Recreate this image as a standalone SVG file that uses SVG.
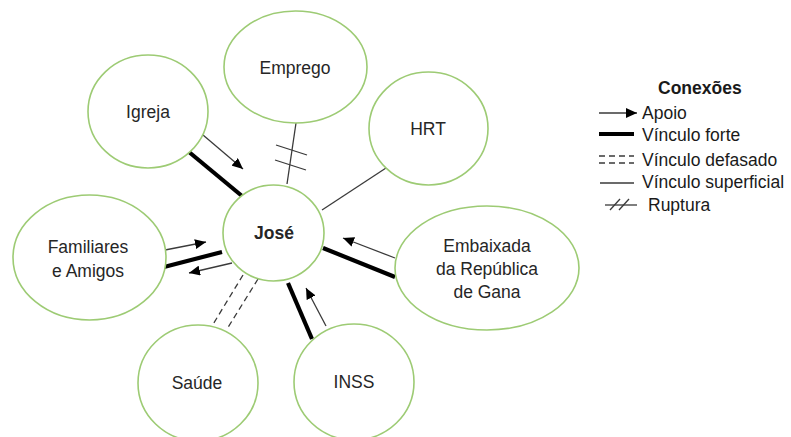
<svg xmlns="http://www.w3.org/2000/svg" width="791" height="437" viewBox="0 0 791 437">
<style>
.node{fill:#fff;stroke:#9dcb74;stroke-width:1.6}
.t{font-family:"Liberation Sans",Arial,sans-serif;font-size:17.5px;fill:#262626;text-anchor:middle}
.b{font-weight:bold}
.lg{font-family:"Liberation Sans",Arial,sans-serif;font-size:17.5px;fill:#1a1a1a}
.thin{stroke:#3a3a3a;stroke-width:1.3;fill:none}
.thick{stroke:#000;stroke-width:4.2;fill:none}
.dash{stroke:#3a3a3a;stroke-width:1.3;stroke-dasharray:6 4;fill:none}
</style>
<defs>
<marker id="ah" markerUnits="userSpaceOnUse" markerWidth="12" markerHeight="10" refX="11" refY="5" orient="auto">
<path d="M0,0 L11,5 L0,10 z" fill="#000"/>
</marker>
</defs>
<rect width="791" height="437" fill="#fff"/>
<g id="connectors">
<line class="thick" x1="189" y1="152" x2="242" y2="196"/>
<line class="thin" x1="203" y1="135" x2="243" y2="169" marker-end="url(#ah)"/>
<line class="thin" x1="296" y1="123" x2="287" y2="184"/>
<line class="thin" x1="276" y1="145" x2="307" y2="155"/>
<line class="thin" x1="275" y1="160" x2="306" y2="170"/>
<line class="thin" x1="386" y1="168" x2="322" y2="210"/>
<line class="thin" x1="165" y1="250" x2="206" y2="242" marker-end="url(#ah)"/>
<line class="thick" x1="164" y1="267" x2="222" y2="252"/>
<line class="thin" x1="232" y1="263" x2="189" y2="273" marker-end="url(#ah)"/>
<line class="dash" x1="243" y1="275" x2="212" y2="326"/>
<line class="dash" x1="258" y1="279" x2="227" y2="329"/>
<line class="thick" x1="288" y1="283" x2="312" y2="339"/>
<line class="thin" x1="326" y1="326" x2="306" y2="288" marker-end="url(#ah)"/>
<line class="thick" x1="323" y1="248" x2="395" y2="277"/>
<line class="thin" x1="395" y1="258" x2="343" y2="238" marker-end="url(#ah)"/>
</g>
<g id="jose"><ellipse class="node" cx="273.5" cy="233" rx="50.5" ry="48"/><text class="t b" x="274" y="239" font-size="16">José</text></g>
<g id="emprego"><ellipse class="node" cx="295.5" cy="67" rx="71.5" ry="56"/><text class="t" x="295" y="74">Emprego</text></g>
<g id="igreja"><ellipse class="node" cx="148" cy="111.5" rx="60" ry="56.5"/><text class="t" x="148" y="118">Igreja</text></g>
<g id="hrt"><ellipse class="node" cx="428.5" cy="128.5" rx="59.5" ry="56.5"/><text class="t" x="428" y="135">HRT</text></g>
<g id="familiares"><ellipse class="node" cx="89.5" cy="257.5" rx="76.5" ry="62.5"/><text class="t" x="88" y="253">Familiares</text><text class="t" x="88" y="277">e Amigos</text></g>
<g id="embaixada"><ellipse class="node" cx="487" cy="268" rx="92" ry="62"/><text class="t" x="487" y="252">Embaixada</text><text class="t" x="487" y="275">da República</text><text class="t" x="487" y="298">de Gana</text></g>
<g id="saude"><ellipse class="node" cx="198" cy="383" rx="60" ry="58"/><text class="t" x="197" y="389">Saúde</text></g>
<g id="inss"><ellipse class="node" cx="354" cy="382" rx="60" ry="58"/><text class="t" x="354" y="388">INSS</text></g>
<g id="legend">
<text class="lg" x="658" y="94" font-weight="bold" font-size="16">Conexões</text>
<line class="thin" x1="599" y1="113" x2="637" y2="113" marker-end="url(#ah)"/>
<text class="lg" x="642" y="119">Apoio</text>
<line class="thick" x1="599" y1="134" x2="634" y2="134"/>
<text class="lg" x="642" y="141">Vínculo forte</text>
<line class="dash" x1="599" y1="156" x2="634" y2="156" stroke-dasharray="7 3"/>
<line class="dash" x1="599" y1="163" x2="634" y2="163" stroke-dasharray="7 3"/>
<text class="lg" x="642" y="166">Vínculo defasado</text>
<line class="thin" x1="600" y1="183" x2="634" y2="183"/>
<text class="lg" x="642" y="188">Vínculo superficial</text>
<line class="thin" x1="605" y1="205" x2="637" y2="205"/>
<line class="thin" x1="610" y1="210" x2="620" y2="199"/>
<line class="thin" x1="619" y1="210" x2="629" y2="199"/>
<text class="lg" x="648" y="211">Ruptura</text>
</g>
</svg>
